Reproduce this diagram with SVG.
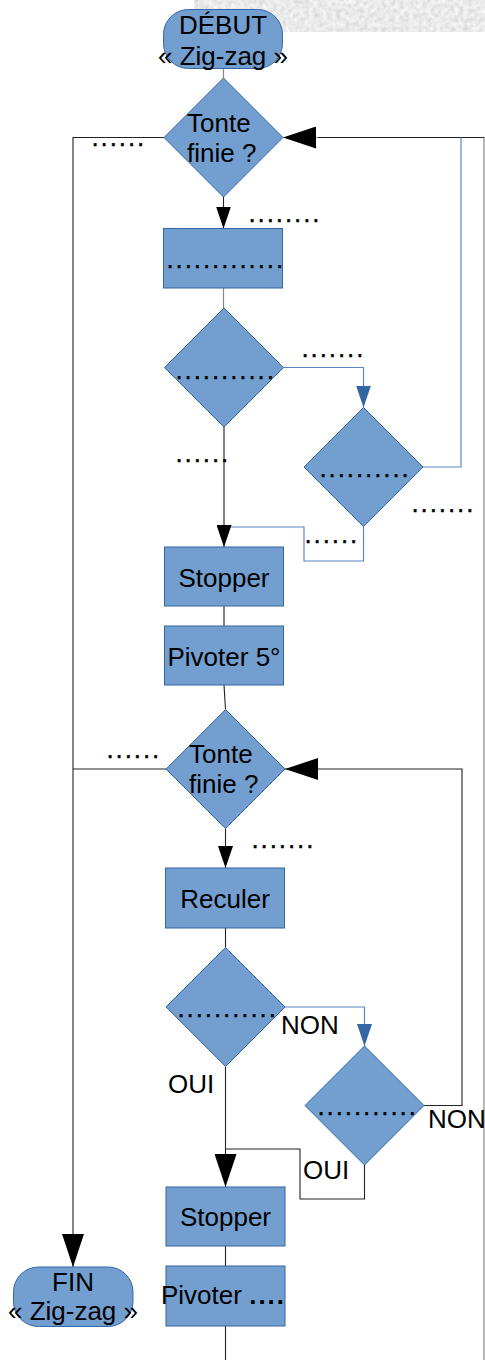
<svg xmlns="http://www.w3.org/2000/svg" width="485" height="1360" viewBox="0 0 485 1360">
  <style>
    .node { fill: #729fcf; stroke: #3465a4; stroke-width: 1; }
    .lbl { font-family: "Liberation Sans", Arial, sans-serif; font-size: 26px; fill: #000; }
    .mid { text-anchor: middle; }
    .dots { font-family: "Liberation Sans", Arial, sans-serif; font-size: 26px; fill: #000; letter-spacing: 1.9px; stroke: #000; stroke-width: 0.35; }
    .wire { fill: none; stroke: #222; stroke-width: 1.1; }
    .wire-grey { fill: none; stroke: #888; stroke-width: 1.2; }
    .wire-blue { fill: none; stroke: #5b87c0; stroke-width: 1.2; }
  </style>
  <defs>
    <marker id="ahBig" markerUnits="userSpaceOnUse" viewBox="0 0 33 22" markerWidth="33" markerHeight="22" refX="33" refY="11" orient="auto">
      <path d="M0,0 L33,11 L0,22 z" fill="#000"/>
    </marker>
    <marker id="ahSmall" markerUnits="userSpaceOnUse" viewBox="0 0 22 15" markerWidth="22" markerHeight="15" refX="22" refY="7.5" orient="auto">
      <path d="M0,0 L22,7.5 L0,15 z" fill="#000"/>
    </marker>
    <marker id="ahBlue" markerUnits="userSpaceOnUse" viewBox="0 0 22 15" markerWidth="22" markerHeight="15" refX="22" refY="7.5" orient="auto">
      <path d="M0,0 L22,7.5 L0,15 z" fill="#3465a4"/>
    </marker>
    <filter id="grain" x="0" y="0" width="100%" height="100%">
      <feTurbulence type="fractalNoise" baseFrequency="0.22" numOctaves="2" seed="4" result="noise"/>
      <feColorMatrix in="noise" type="matrix" values="0.4 0 0 0 0.62  0.4 0 0 0 0.62  0.4 0 0 0 0.62  0 0 0 0 1" result="grey"/>
      <feComposite in="grey" in2="SourceGraphic" operator="in"/>
    </filter>
  </defs>

  <rect x="0" y="0" width="485" height="1360" fill="#fff"/>
  <!-- textured strip along the top edge -->
  <rect x="194" y="0" width="291" height="32" fill="#ddd" filter="url(#grain)"/>

  <g id="connectors">
    <path class="wire-grey" d="M223.5,69 V78"/>
    <path class="wire" d="M223.5,197 V228.5" marker-end="url(#ahSmall)"/>
    <path class="wire" d="M164,137.5 H73 V1267" marker-end="url(#ahBig)"/>
    <path class="wire-grey" d="M484,1360 V137.5 H283" marker-end="url(#ahBig)"/>
    <path class="wire" d="M484,137.5 H318"/>
    <path class="wire-grey" d="M223.5,288 V308"/>
    <path class="wire-blue" d="M283.5,367.5 H363.5 V407.5" marker-end="url(#ahBlue)"/>
    <path class="wire-blue" d="M423,467 H461 V137.5"/>
    <path class="wire" d="M224,427 V547" marker-end="url(#ahSmall)"/>
    <path class="wire-blue" d="M363.5,526.5 V561 H304 V527 H231"/>
    <path class="wire" d="M224,606 V626"/>
    <path class="wire" d="M224,685 L225.5,709.5"/>
    <path class="wire" d="M166,769 H73"/>
    <path class="wire" d="M424,1105.5 H462 V769 H285" marker-end="url(#ahBig)"/>
    <path class="wire" d="M225.5,828.5 V868" marker-end="url(#ahSmall)"/>
    <path class="wire" d="M225.5,928 V947.5"/>
    <path class="wire-blue" d="M285,1007 H364.5 V1046" marker-end="url(#ahBlue)"/>
    <path class="wire" d="M225.5,1066.5 V1187" marker-end="url(#ahBig)"/>
    <path class="wire" d="M364.5,1165 V1199 H300 V1149 H225.5"/>
    <path class="wire" d="M225.5,1246 V1266"/>
    <path class="wire" d="M225.5,1326 V1360"/>
  </g>

  <g id="edge-labels">
    <text class="dots" x="91.5" y="146">......</text>
    <text class="dots" x="248.5" y="222">........</text>
    <text class="dots" x="301.5" y="357">.......</text>
    <text class="dots" x="175.5" y="462">......</text>
    <text class="dots" x="411.5" y="512">.......</text>
    <text class="dots" x="304.5" y="543">......</text>
    <text class="dots" x="106.5" y="758">......</text>
    <text class="dots" x="251.5" y="848">.......</text>
    <text class="lbl" x="281" y="1034">NON</text>
    <text class="lbl" x="168" y="1093">OUI</text>
    <text class="lbl" x="428" y="1128">NON</text>
    <text class="lbl" x="303" y="1179">OUI</text>
  </g>

  <g id="n-debut">
    <rect class="node" x="163.5" y="9.5" width="119" height="59" rx="25"/>
    <text class="lbl mid" x="223" y="34">DÉBUT</text>
    <text class="lbl mid" x="223" y="65">« Zig-zag »</text>
  </g>

  <g id="n-tonte1">
    <polygon class="node" points="223.5,78 283,137.5 223.5,197 164,137.5"/>
    <text class="lbl" x="187" y="132">Tonte</text>
    <text class="lbl" x="187" y="162">finie ?</text>
  </g>

  <g id="n-action1">
    <rect class="node" x="163.5" y="228.5" width="119" height="59.5"/>
    <text class="dots" x="166.5" y="268">.............</text>
  </g>

  <g id="n-test1">
    <polygon class="node" points="224,308 283.5,367.5 224,427 164.5,367.5"/>
    <text class="dots" x="175.5" y="379">...........</text>
  </g>

  <g id="n-test2">
    <polygon class="node" points="363.5,407.5 423,467 363.5,526.5 304,467"/>
    <text class="dots" x="319.5" y="477">..........</text>
  </g>

  <g id="n-stopper1">
    <rect class="node" x="164.5" y="547" width="119" height="59"/>
    <text class="lbl mid" x="224" y="586.5">Stopper</text>
  </g>

  <g id="n-pivoter1">
    <rect class="node" x="164.5" y="626" width="119" height="59"/>
    <text class="lbl mid" x="224" y="666">Pivoter 5°</text>
  </g>

  <g id="n-tonte2">
    <polygon class="node" points="225.5,709.5 285,769 225.5,828.5 166,769"/>
    <text class="lbl" x="189" y="763">Tonte</text>
    <text class="lbl" x="189" y="793">finie ?</text>
  </g>

  <g id="n-reculer">
    <rect class="node" x="165.5" y="868" width="119" height="60"/>
    <text class="lbl mid" x="225" y="907.5">Reculer</text>
  </g>

  <g id="n-test3">
    <polygon class="node" points="225.5,947.5 285,1007 225.5,1066.5 166,1007"/>
    <text class="dots" x="177.5" y="1017">...........</text>
  </g>

  <g id="n-test4">
    <polygon class="node" points="364.5,1046 424,1105.5 364.5,1165 305,1105.5"/>
    <text class="dots" x="317.5" y="1115">...........</text>
  </g>

  <g id="n-stopper2">
    <rect class="node" x="166" y="1187" width="119" height="59"/>
    <text class="lbl mid" x="225.5" y="1226">Stopper</text>
  </g>

  <g id="n-pivoter2">
    <rect class="node" x="166" y="1266" width="119" height="60"/>
    <text class="lbl" x="161" y="1304">Pivoter <tspan font-weight="bold" letter-spacing="2">....</tspan></text>
  </g>

  <g id="n-fin">
    <rect class="node" x="13.5" y="1267" width="119.5" height="59.5" rx="25"/>
    <text class="lbl mid" x="73" y="1291">FIN</text>
    <text class="lbl mid" x="73" y="1320">« Zig-zag »</text>
  </g>
</svg>
